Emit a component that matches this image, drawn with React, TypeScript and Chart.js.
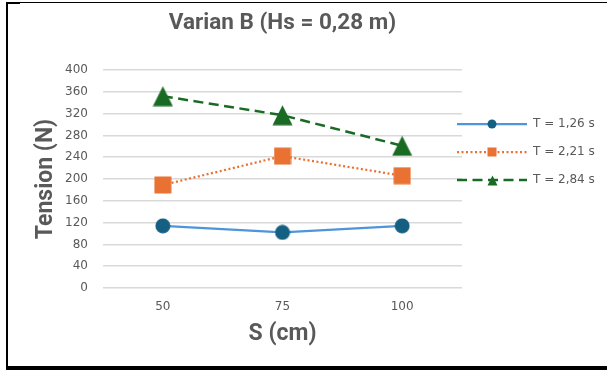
import React, { useEffect, useRef } from 'react';
import { Chart, registerables } from 'chart.js';

Chart.register(...registerables);

// ---- data ----
const categories = ['50', '75', '100'];
const seriesLabels = ['T = 1,26 s', 'T = 2,21 s', 'T = 2,84 s'];
const seriesT126 = [114, 102, 114];
const seriesT221 = [189, 242, 206];
const seriesT284 = [352, 317, 261];
const yMin = 0;
const yMax = 400;
const yStep = 40;
const chartTitle = 'Varian B (Hs = 0,28 m)';
const xAxisTitle = 'S (cm)';
const yAxisTitle = 'Tension (N)';

const GRAY = '#595959';
const TICK_FONT = { family: '"DejaVu Sans", sans-serif', size: 12 };

type Shape = 'circle' | 'square' | 'triangle';

function makeMarker(shape: Shape, size: number, color: string): HTMLCanvasElement {
  const c = document.createElement('canvas');
  c.width = size;
  c.height = size;
  const g = c.getContext('2d') as CanvasRenderingContext2D;
  g.fillStyle = color;
  g.beginPath();
  if (shape === 'circle') {
    g.arc(size / 2, size / 2, size / 2 - 0.5, 0, Math.PI * 2);
  } else if (shape === 'square') {
    g.rect(0.5, 0.5, size - 1, size - 1);
  } else {
    g.moveTo(size / 2, 0.5);
    g.lineTo(size - 0.5, size - 0.5);
    g.lineTo(0.5, size - 0.5);
    g.closePath();
  }
  g.fill();
  return c;
}

export default function App() {
  const canvasRef = useRef<HTMLCanvasElement | null>(null);

  useEffect(() => {
    const canvas = canvasRef.current;
    if (!canvas) return;

    const chartMarkers = [
      makeMarker('circle', 16, '#156082'),
      makeMarker('square', 18, '#E97132'),
      makeMarker('triangle', 21, '#196B24'),
    ];
    const legendMarkers = [
      makeMarker('circle', 10, '#156082'),
      makeMarker('square', 10, '#E97132'),
      makeMarker('triangle', 11, '#196B24'),
    ];

    const legendPlugin = {
      id: 'customLegend',
      afterDraw(chart: any) {
        const ctx: CanvasRenderingContext2D = chart.ctx;
        const area = chart.chartArea;
        const rowYs = [124, 152, 180];
        const x0 = area.right - 5;
        const x1 = x0 + 70;
        const xm = (x0 + x1) / 2;
        chart.data.datasets.forEach((ds: any, i: number) => {
          const y = rowYs[i];
          ctx.save();
          ctx.strokeStyle = ds.borderColor;
          ctx.lineWidth = ds.borderWidth;
          ctx.setLineDash(ds.borderDash || []);
          ctx.beginPath();
          ctx.moveTo(x0, y);
          ctx.lineTo(x1, y);
          ctx.stroke();
          ctx.setLineDash([]);
          const m = legendMarkers[i];
          ctx.drawImage(m, Math.round(xm - m.width / 2), Math.round(y - m.height / 2));
          ctx.fillStyle = GRAY;
          ctx.font = '12px "DejaVu Sans", sans-serif';
          ctx.textBaseline = 'middle';
          ctx.textAlign = 'left';
          ctx.fillText(ds.label, x1 + 6, y);
          ctx.restore();
        });
      },
    };

    const chart = new Chart(canvas, {
      type: 'line',
      data: {
        labels: categories,
        datasets: [
          {
            label: seriesLabels[0],
            data: seriesT126,
            borderColor: '#4E95D9',
            borderWidth: 2.25,
            pointStyle: chartMarkers[0] as any,
            pointRadius: 8,
            tension: 0,
          },
          {
            label: seriesLabels[1],
            data: seriesT221,
            borderColor: '#E97132',
            borderWidth: 2.25,
            borderDash: [2, 2.5],
            pointStyle: chartMarkers[1] as any,
            pointRadius: 9,
            tension: 0,
          },
          {
            label: seriesLabels[2],
            data: seriesT284,
            borderColor: '#196B24',
            borderWidth: 2.5,
            borderDash: [10, 5.5],
            pointStyle: chartMarkers[2] as any,
            pointRadius: 10,
            tension: 0,
          },
        ],
      },
      options: {
        animation: false,
        responsive: false,
        devicePixelRatio: 1,
        layout: { padding: { left: 0, right: 145, top: 0, bottom: 0 } },
        plugins: {
          legend: { display: false },
          tooltip: { enabled: false },
          title: {
            display: true,
            text: chartTitle,
            fullSize: false,
            color: GRAY,
            font: { family: 'Roboto, sans-serif', size: 22.5, weight: 'bold' },
            padding: { top: 10, bottom: 33 },
          },
        },
        scales: {
          x: {
            type: 'category',
            offset: true,
            grid: { display: false, drawTicks: false },
            border: { display: false },
            ticks: { color: GRAY, font: TICK_FONT, padding: 12 },
            title: {
              display: true,
              text: xAxisTitle,
              color: GRAY,
              font: { family: 'Roboto, sans-serif', size: 23, weight: 'bold' },
              padding: { top: 0, bottom: 22.2 },
            },
            afterFit: (scale: any) => {
              scale.height = 82;
            },
          },
          y: {
            min: yMin,
            max: yMax,
            grid: { color: '#d9d9d9', lineWidth: 1.5, drawTicks: false },
            border: { display: false },
            ticks: { stepSize: yStep, color: GRAY, font: TICK_FONT, padding: 15 },
            title: {
              display: true,
              text: yAxisTitle,
              color: GRAY,
              font: { family: 'Roboto, sans-serif', size: 23, weight: 'bold' },
              padding: { top: 32, bottom: 0 },
            },
            afterFit: (scale: any) => {
              scale.width = 103;
            },
          },
        },
      },
      plugins: [legendPlugin],
    } as any);

    return () => {
      chart.destroy();
    };
  }, []);

  const black = '#000';
  return (
    <div
      style={{
        position: 'fixed',
        left: 0,
        top: 0,
        width: 607,
        height: 370,
        background: '#fff',
        overflow: 'hidden',
      }}
    >
      <canvas
        ref={canvasRef}
        width={607}
        height={370}
        style={{ position: 'absolute', left: 0, top: 0, width: 607, height: 370 }}
      />
      <div style={{ position: 'absolute', left: 6, top: 2, width: 601, height: 1, background: black }} />
      <div style={{ position: 'absolute', left: 6, top: 2, width: 14, height: 2, background: black }} />
      <div style={{ position: 'absolute', left: 6, top: 2, width: 2, height: 368, background: black }} />
      <div style={{ position: 'absolute', left: 6, top: 366, width: 601, height: 4, background: black }} />
    </div>
  );
}
